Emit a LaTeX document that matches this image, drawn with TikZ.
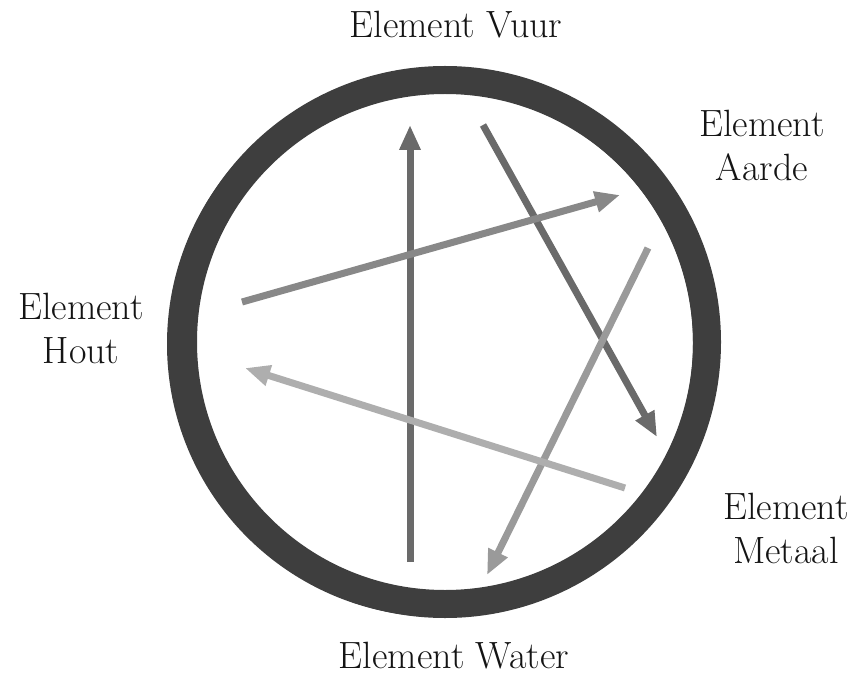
\documentclass[tikz,border=0pt]{standalone}
\usepackage{xcolor}
\usepackage{tikz}
\usetikzlibrary{arrows.meta, positioning}
\definecolor{elRing}{RGB}{62,62,62}
\definecolor{elText}{RGB}{20,20,20}
\definecolor{elDark}{RGB}{106,106,106}
\definecolor{elMid}{RGB}{136,136,136}
\definecolor{elSoft}{RGB}{154,154,154}
\definecolor{elLight}{RGB}{174,174,174}

\begin{document}
\begin{tikzpicture}[
    x=1pt, y=-1pt,
    label/.style={text=elText, align=center, inner sep=0pt,
      font=\fontsize{38}{44}\selectfont},
    ring/.style={draw=elRing, line width=28pt},
    arr/.style={-{Triangle[length=25pt,width=20pt]}, line width=7pt}
  ]
    \useasboundingbox (0,0) rectangle (859,676);
    \draw[ring] (445,342) circle[radius=262pt];
    \draw[ring, line width=20pt] (440,344) circle[radius=263pt];
    \node[label, anchor=base] (vuur) at (456,38) {Element Vuur};
    \node[label] (aarde) at (762,145) {Element\\Aarde};
    \node[label] (hout) at (81,328) {Element\\Hout};
    \node[label] (metaal) at (786,528) {Element\\Metaal};
    \node[label, anchor=base] (water) at (454,668) {Element Water};
    \coordinate (waterOut) at (410,562);
    \coordinate (vuurIn) at (410,125);
    \coordinate (vuurOut) at (483,125);
    \coordinate (metaalIn) at (657,437);
    \coordinate (houtOut) at (242,302);
    \coordinate (aardeIn) at (620,195);
    \coordinate (aardeOut) at (648,248);
    \coordinate (waterIn) at (487,575);
    \coordinate (metaalOut) at (625,488);
    \coordinate (houtIn) at (245,368);
    \draw[arr, draw=elDark, fill=elDark] (waterOut) -- (vuurIn);
    \draw[arr, draw=elDark, fill=elDark] (vuurOut) -- (metaalIn);
    \draw[arr, draw=elMid, fill=elMid] (houtOut) -- (aardeIn);
    \draw[arr, draw=elSoft, fill=elSoft] (aardeOut) -- (waterIn);
    \draw[arr, draw=elLight, fill=elLight] (metaalOut) -- (houtIn);
  \end{tikzpicture}
\end{document}
